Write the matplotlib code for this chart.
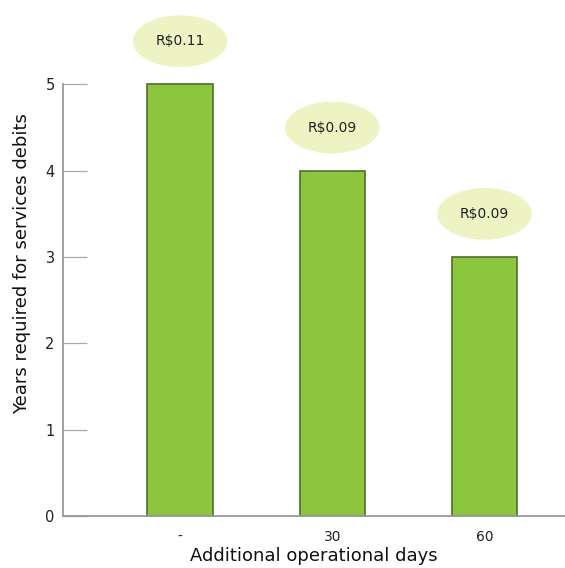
import matplotlib
matplotlib.use("Agg")
import matplotlib.pyplot as plt
from matplotlib.patches import Ellipse

categories = ["-", "30", "60"]
years = [5, 4, 3]
cost_labels = ["R$0.11", "R$0.09", "R$0.09"]
yticks = [0, 1, 2, 3, 4, 5]

plt.rcParams['font.family'] = ['DejaVu Sans']
fig = plt.figure(figsize=(5.65, 5.68), dpi=100)
ax = fig.add_axes([63/565, 52/568, 502/565, 505/568])

x = list(range(len(categories)))
ax.bar(x, years, width=0.43, color="#8cc63f", edgecolor="#4f6f27", linewidth=1.2, zorder=2)

for xi, yi, lab in zip(x, years, cost_labels):
    e = Ellipse((xi, yi + 0.5), width=0.62, height=0.6, facecolor="#eef3c4",
                edgecolor="none", clip_on=False, zorder=3)
    ax.add_patch(e)
    ax.text(xi, yi + 0.5, lab, ha="center", va="center", fontsize=10,
            color="#222222", zorder=4)

ax.set_xlim(-0.77, 2.53)
ax.set_ylim(0, 5.85)
ax.set_xticks(x)
ax.set_xticklabels(categories, fontsize=10, color="#222222")
ax.set_yticks(yticks)
ax.set_yticklabels([str(t) for t in yticks], fontsize=10.5, color="#222222")
ax.tick_params(axis="x", length=0, pad=10)
ax.tick_params(axis="y", direction="in", length=17, width=0.9, color="#aaaaaa", pad=6)

for s in ["top", "right"]:
    ax.spines[s].set_visible(False)
ax.spines["left"].set_bounds(0, 5)
ax.spines["left"].set_color("#999999")
ax.spines["left"].set_linewidth(1.3)
ax.spines["bottom"].set_color("#999999")
ax.spines["bottom"].set_linewidth(1.3)

ax.set_xlabel("Additional operational days", fontsize=13, color="#111111", labelpad=2)
ax.set_ylabel("Years required for services debits", fontsize=13, color="#111111", labelpad=10)

fig.savefig("out.png", dpi=100)
